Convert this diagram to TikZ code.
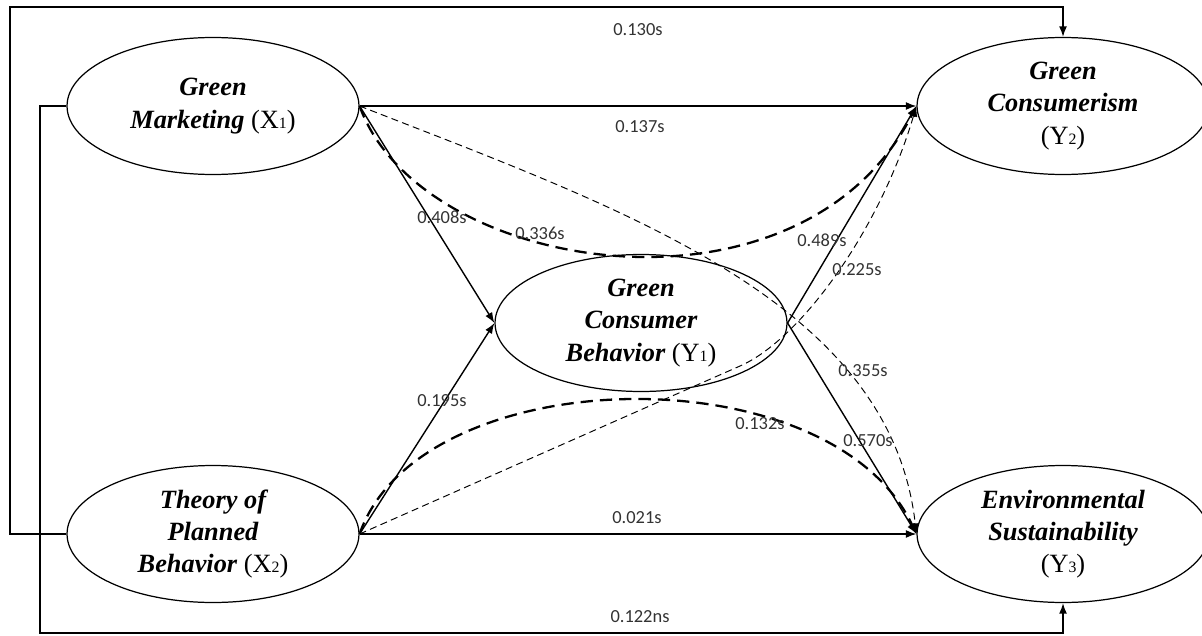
\documentclass[tikz,border=0pt]{standalone}
\usepackage{fontspec}
\setmainfont{Liberation Serif}
\newfontfamily\coeffont{Carlito}
\usepackage{tikz}
\usetikzlibrary{shapes,arrows,positioning,calc,arrows.meta}

\newcommand{\varlab}[2]{{\mdseries\upshape (#1{\fontsize{9}{9}\selectfont #2})}}

\tikzset{
  construct/.style={ellipse, draw, line width=0.7pt, minimum width=5.84cm, minimum height=2.74cm,
    inner sep=0pt, align=center, font=\fontsize{15}{18.4}\selectfont\bfseries\itshape},
  coef/.style={font=\coeffont\fontsize{10.5}{12}\selectfont, text=black!80, inner sep=1pt},
  direct/.style={->, line width=0.8pt},
  med/.style={->, line width=1.3pt, dash pattern=on 7pt off 4pt},
  weak/.style={->, line width=0.55pt, dash pattern=on 4pt off 2.5pt}
}

\begin{document}
\begin{tikzpicture}[x=0.02cm, y=-0.02cm, >={Latex[length=6pt,width=4.5pt]}]
    \useasboundingbox (0,0) rectangle (1202,635);

    \node [construct] (x1) at (213,106) {Green\\Marketing \varlab{X}{1}};
    \node [construct] (x2) at (213,534) {Theory of\\Planned\\Behavior \varlab{X}{2}};
    \node [construct] (y1) at (641,323) {Green\\Consumer\\Behavior \varlab{Y}{1}};
    \node [construct] (y2) at (1063,106) {Green\\Consumerism\\\varlab{Y}{2}};
    \node [construct] (y3) at (1063,534) {Environmental\\Sustainability\\\varlab{Y}{3}};

    \coordinate (tl) at (10,7);
    \coordinate (bl) at (40,633);

    % outer paths
    \draw [direct] (x2.west) -| (tl) -| (y2.north);
    \draw [direct] (x1.west) -| (bl) -| (y3.south);

    % direct effects
    \draw [direct] (x1.east) -- (y2.west);
    \draw [direct] (x2.east) -- (y3.west);
    \draw [direct] (x1.east) -- (y1.west);
    \draw [direct] (x2.east) -- (y1.west);
    \draw [direct] (y1.east) -- (y2.west);
    \draw [direct] (y1.east) -- (y3.west);

    % mediated effects
    \draw [med] (x1.east) .. controls (420,275) and (800,334) .. (y2.west);
    \draw [med] (x2.east) .. controls (420,360) and (830,351) .. (y3.west);
    \draw [weak] (x1.east) .. controls (620,208) and (890,300) .. (y3.west);
    \draw [weak] (x2.east) -- (740,366) .. controls (800,340) and (880,230) .. (y2.west);

    \node [coef] (c130) at (638,30) {0.130s};
    \node [coef] (c137) at (640,127) {0.137s};
    \node [coef] (c408) at (442,217) {0.408s};
    \node [coef] (c336) at (540,233) {0.336s};
    \node [coef] (c489) at (822,240) {0.489s};
    \node [coef] (c225) at (857,270) {0.225s};
    \node [coef] (c355) at (863,371) {0.355s};
    \node [coef] (c195) at (442,401) {0.195s};
    \node [coef] (c132) at (760,424) {0.132s};
    \node [coef] (c570) at (868,441) {0.570s};
    \node [coef] (c021) at (637,518) {0.021s};
    \node [coef] (c122) at (640,617) {0.122ns};
\end{tikzpicture}
\end{document}
